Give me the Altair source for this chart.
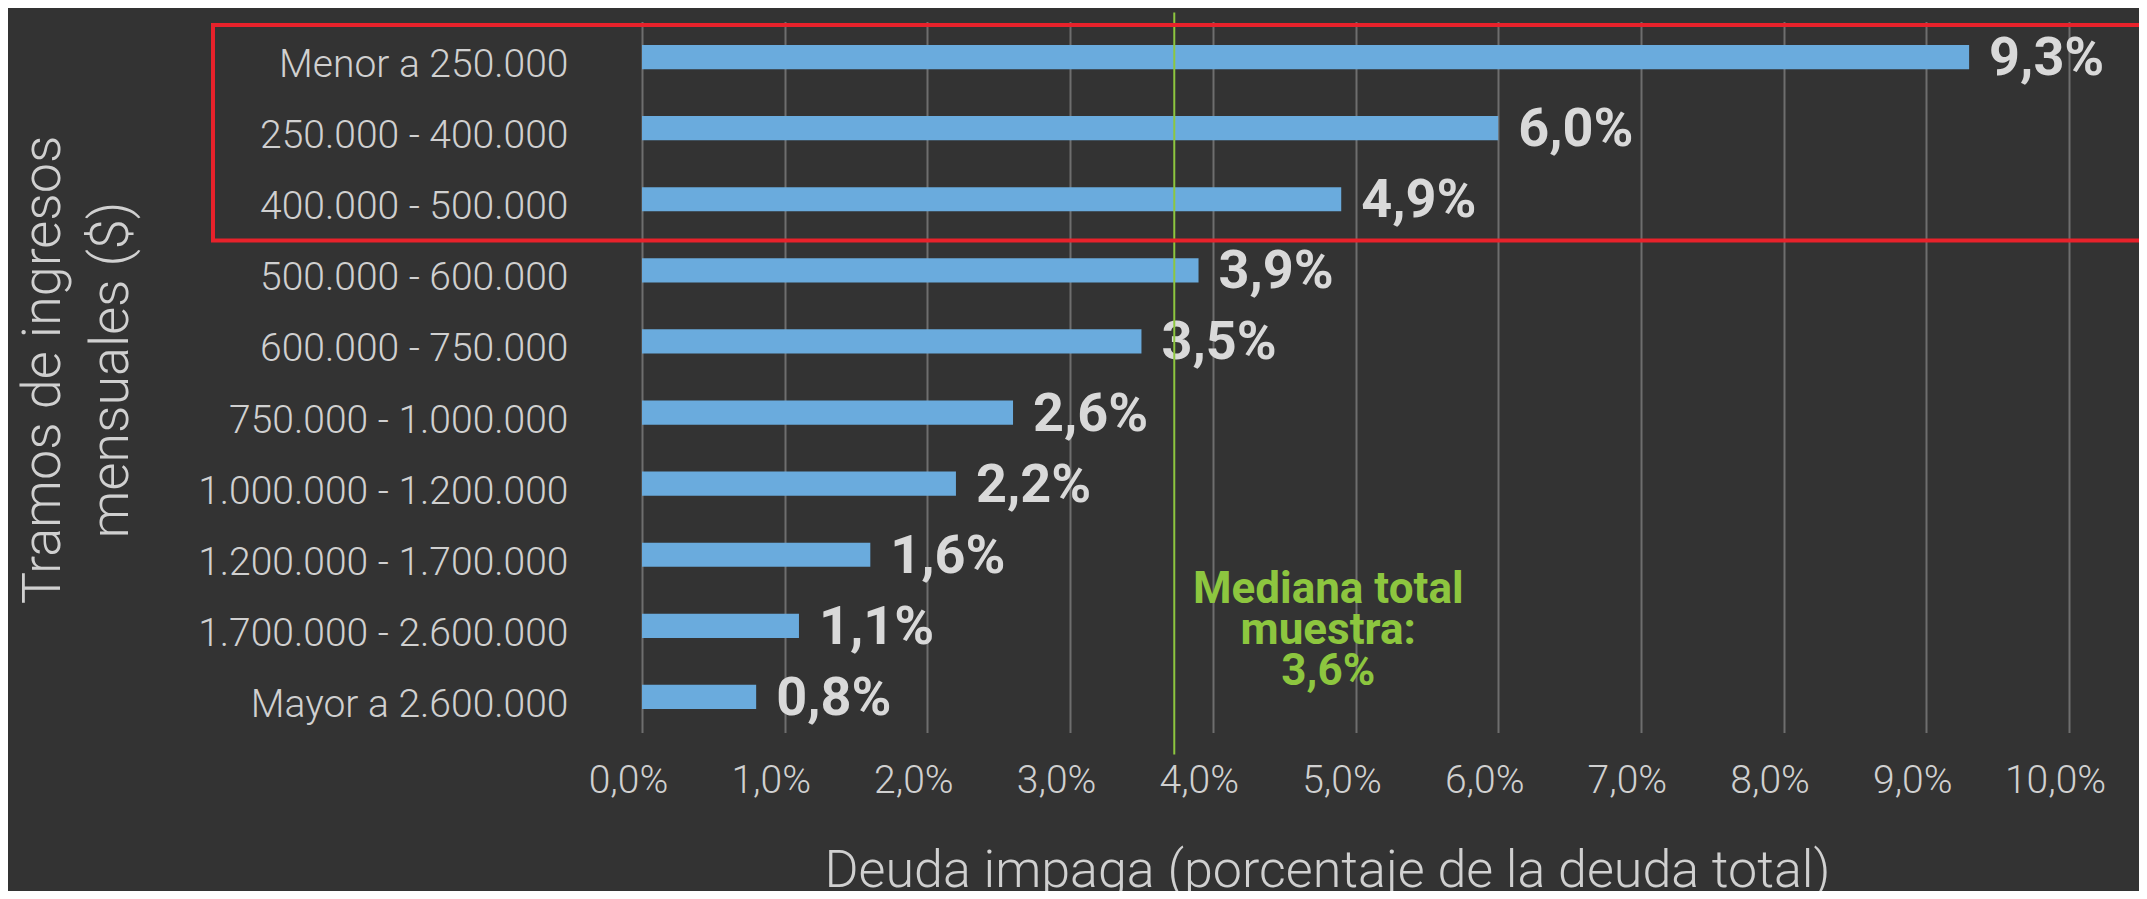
import altair as alt
import pandas as pd

# ---- data ----
categorias = [
    "Menor a 250.000",
    "250.000 - 400.000",
    "400.000 - 500.000",
    "500.000 - 600.000",
    "600.000 - 750.000",
    "750.000 - 1.000.000",
    "1.000.000 - 1.200.000",
    "1.200.000 - 1.700.000",
    "1.700.000 - 2.600.000",
    "Mayor a 2.600.000",
]
deuda_impaga = [9.3, 6.0, 4.9, 3.9, 3.5, 2.6, 2.2, 1.6, 1.1, 0.8]
mediana_posicion = [3.73]           # where the median line is drawn in the picture
mediana_texto = ["Mediana total", "muestra:", "3,6%"]
x_ticks = [0, 1, 2, 3, 4, 5, 6, 7, 8, 9, 10]
titulo_x = "Deuda impaga (porcentaje de la deuda total)"
titulo_y = ["Tramos de ingresos", "mensuales ($)"]


def fmt(v):
    return f"{v:.1f}".replace(".", ",") + "%"


df = pd.DataFrame({"tramo": categorias, "valor": deuda_impaga,
                   "etiqueta": [fmt(v) for v in deuda_impaga]})
med_df = pd.DataFrame({"valor": mediana_posicion})
box_df = pd.DataFrame({"valor": [0]})

W, H = 1427, 711
FONT = "Roboto"
TXT = "#d0d0d0"
BG = "#333333"
GREEN = "#8dc63f"

x_scale = alt.Scale(domain=[0, 10], nice=False, zero=True)
y_scale = alt.Scale(domain=categorias, paddingInner=0.66, paddingOuter=0.33)

x_axis = alt.Axis(
    values=x_ticks,
    labelExpr="replace(format(datum.value, '.1f'), '.', ',') + '%'",
    grid=True, gridColor="#6e6e6e", gridWidth=2,
    domain=False, ticks=False,
    labelFont=FONT, labelFontWeight=300, labelFontSize=39, labelColor=TXT,
    labelPadding=29, labelFlush=False, labelOverlap=False, labelOffset=-14,
    title=titulo_x, titleFont=FONT, titleFontWeight=300, titleFontSize=52,
    titleColor=TXT, titleBaseline="alphabetic", titleY=154, titleX=685,
    titleAlign="center",
)
y_axis = alt.Axis(
    domain=False, ticks=False, grid=False,
    labelFont=FONT, labelFontWeight=300, labelFontSize=39, labelColor=TXT,
    labelPadding=74, labelLimit=600, labelOffset=8,
    title=titulo_y, titleFont=FONT, titleFontWeight=300, titleFontSize=54,
    titleColor=TXT, titleAngle=270, titleBaseline="middle", titleAlign="center",
    titleX=-599, titleY=348, titleLineHeight=68,
)

X = alt.X("valor:Q", scale=x_scale, axis=x_axis, title=titulo_x)
Y = alt.Y("tramo:N", sort=categorias, scale=y_scale, axis=y_axis, title=titulo_y)

bars = alt.Chart(df).mark_bar(color="#6aabdd").encode(x=X, y=Y)

labels = alt.Chart(df).mark_text(
    align="left", baseline="middle", dx=20, dy=2, font=FONT, fontWeight="bold",
    fontSize=54, color="#d9d9d9",
).encode(x=X, y=Y, text="etiqueta:N")

rule = alt.Chart(med_df).mark_rule(color=GREEN, strokeWidth=2).encode(
    x=alt.X("valor:Q", scale=x_scale, title=titulo_x),
    y=alt.value(-9), y2=alt.value(H + 22),
)

anot = alt.Chart(med_df).mark_text(
    text=mediana_texto, align="center", baseline="middle", lineHeight=41,
    font=FONT, fontWeight="bold", fontSize=44, color=GREEN, dx=154,
).encode(x=alt.X("valor:Q", scale=x_scale, title=titulo_x), y=alt.value(568))

caja = alt.Chart(box_df).mark_rect(
    fillOpacity=0, stroke="#e8222b", strokeWidth=4,
).encode(x=alt.value(-429), x2=alt.value(W + 200), y=alt.value(3.5), y2=alt.value(219))

chart = alt.layer(bars, labels, rule, anot, caja).properties(
    width=W, height=H, background=BG,
    padding={"left": 634, "top": 13.5, "right": 70, "bottom": 158.5},
    autosize=alt.AutoSizeParams(type="none"),
).configure_view(stroke=None)

chart.save("out.html", embed_options={"renderer": "svg", "actions": False})
